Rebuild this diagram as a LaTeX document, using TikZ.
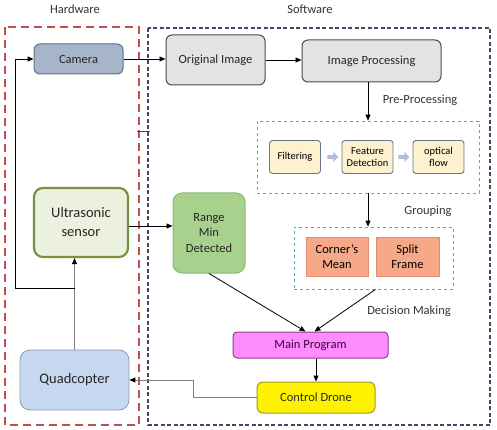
\documentclass[tikz,border=0pt]{standalone}
\usepackage{fontspec}
\setmainfont{Carlito}
\usetikzlibrary{arrows.meta,shapes.arrows}
\definecolor{hwred}{HTML}{C0504D}
\definecolor{swblue}{HTML}{3B4A66}
\definecolor{tealc}{HTML}{4BACC6}
\definecolor{camfill}{HTML}{A7B5CB}
\definecolor{camdraw}{HTML}{5E6F8C}
\definecolor{greyfill}{HTML}{E3E3E3}
\definecolor{smfill}{HTML}{FDF1CF}
\definecolor{smdraw}{HTML}{66788C}
\definecolor{grpfill}{HTML}{F6A888}
\definecolor{grpdraw}{HTML}{E58C6C}
\definecolor{mainfill}{HTML}{FF8CFF}
\definecolor{maindraw}{HTML}{8E3C8E}
\definecolor{ctrldraw}{HTML}{9C9C20}
\definecolor{usfill}{HTML}{EBF1DE}
\definecolor{usdraw}{HTML}{76923C}
\definecolor{rgfill}{HTML}{A9D18E}
\definecolor{rgdraw}{HTML}{8DB874}
\definecolor{qfill}{HTML}{C6D8F0}
\definecolor{qdraw}{HTML}{8D9AB0}
\definecolor{barc}{HTML}{B3BDDB}
\begin{document}
\begin{tikzpicture}[x=1pt,y=-1pt,
  box/.style={draw, rounded corners=6pt, align=center, inner sep=0pt, font=\fontsize{12.5}{15}\selectfont, text=black!85},
  small/.style={draw=smdraw, fill=smfill, rounded corners=3pt, line width=0.9pt, align=center, inner sep=0pt, minimum width=51pt, minimum height=33pt, font=\fontsize{10.5}{11.5}\selectfont},
  grp/.style={draw=grpdraw, fill=grpfill, align=center, inner sep=0pt, minimum width=62pt, minimum height=39pt, line width=0.8pt, font=\fontsize{12.5}{15}\selectfont},
  arr/.style={-{Triangle[length=6pt,width=5pt]}, line width=0.8pt},
  garr/.style={draw=black!50, line width=1pt, -{Triangle[length=6pt,width=5pt,fill=black,color=black]}},
  lbl/.style={font=\fontsize{12.5}{15}\selectfont, text=black!80},
  barrow/.style={single arrow, draw=none, fill=barc, minimum width=10pt, single arrow head extend=2pt, minimum height=11pt, inner sep=1pt}
]
\useasboundingbox (0,0) rectangle (497,430);

% group frames
\draw[hwred, line width=2.4pt, dash pattern=on 8pt off 5pt] (5,27) rectangle (139,425);
\draw[swblue, line width=1.3pt, dash pattern=on 4pt off 2.5pt] (148,28) rectangle (490,425);

\node[lbl] (hw) at (75,9) {Hardware};
\node[lbl] (sw) at (310,9) {Software};

% nodes
\node[box, fill=camfill, draw=camdraw, line width=1pt, minimum width=89pt, minimum height=30pt] (camera) at (78.5,59) {Camera};
\node[box, fill=greyfill, draw=black!70, line width=1pt, minimum width=99pt, minimum height=50pt] (orig) at (215.5,60) {Original Image};
\node[box, fill=greyfill, draw=black!70, line width=1pt, minimum width=139pt, minimum height=42pt] (improc) at (371.5,61) {Image Processing};

\node[draw=tealc, dashed, line width=0.8pt, minimum width=222pt, minimum height=72pt, inner sep=0pt] (pre) at (368,157) {};
\node[small] (filt) at (295,157) {Filtering};
\node[small] (feat) at (367.5,157) {Feature\\Detection};
\node[small] (opt) at (438.5,157) {optical\\flow};
\node[barrow] (ba1) at (332,157) {};
\node[barrow] (ba2) at (403,157) {};

\node[draw=tealc, dashed, line width=0.8pt, minimum width=159pt, minimum height=62pt, inner sep=0pt] (group) at (373.5,258) {};
\node[grp] (corner) at (337,256.5) {Corner's\\Mean};
\node[grp, minimum width=63pt] (split) at (407.5,256.5) {Split\\Frame};

\node[box, fill=mainfill, draw=maindraw, line width=1pt, rounded corners=4pt, minimum width=155pt, minimum height=26pt, text=violet!50!black] (main) at (310.5,345) {Main Program};
\node[box, fill=yellow, draw=ctrldraw, line width=1pt, minimum width=118pt, minimum height=31pt] (control) at (316,397.5) {Control Drone};

\node[box, fill=usfill, draw=usdraw, line width=2.2pt, rounded corners=9pt, minimum width=94pt, minimum height=69pt, font=\fontsize{14.5}{19}\selectfont] (us) at (81,222.5) {Ultrasonic\\sensor};
\node[box, fill=rgfill, draw=rgdraw, line width=1pt, rounded corners=9pt, minimum width=72pt, minimum height=80pt, font=\fontsize{12.5}{15.5}\selectfont] (range) at (209,233) {Range\\Min\\Detected};
\node[box, fill=qfill, draw=qdraw, line width=0.8pt, rounded corners=10pt, minimum width=109pt, minimum height=60pt, font=\fontsize{14.5}{17}\selectfont] (quad) at (74.5,380) {Quadcopter};

\node[lbl] (lpre) at (420,100) {Pre-Processing};
\node[lbl] (lgrp) at (428,211) {Grouping};
\node[lbl] (ldec) at (409,311) {Decision Making};

% connectors
\draw[arr] (camera.east) -- (camera.east -| orig.west);
\draw[arr] (orig.east) -- (orig.east -| improc.west);
\draw[arr] (improc.south -| pre.north) -- (pre.north);
\draw[arr] (pre.south) -- (pre.south |- group.north);
\draw[arr] (us.east |- 0,226) -- (range.west |- 0,226);
\draw[arr] (range.south) -- ([xshift=-5pt]main.north);
\draw[arr] ([xshift=2pt]group.south) -- ([xshift=4pt]main.north);
\draw[arr] (control.north |- main.south) -- (control.north);

\coordinate (bend) at (193,397.5);
\draw[garr] (control.west) -- (bend) |- (quad.east);
\draw[garr] (quad.north) -- (quad.north |- us.south);
\coordinate (join) at (74.5,288);
\coordinate (loopc) at (15,288);
\draw[arr] (join) -- (loopc) |- (camera.west);

\draw[black!70, line width=0.6pt] (137,131) -- (150,131);
\end{tikzpicture}
\end{document}
